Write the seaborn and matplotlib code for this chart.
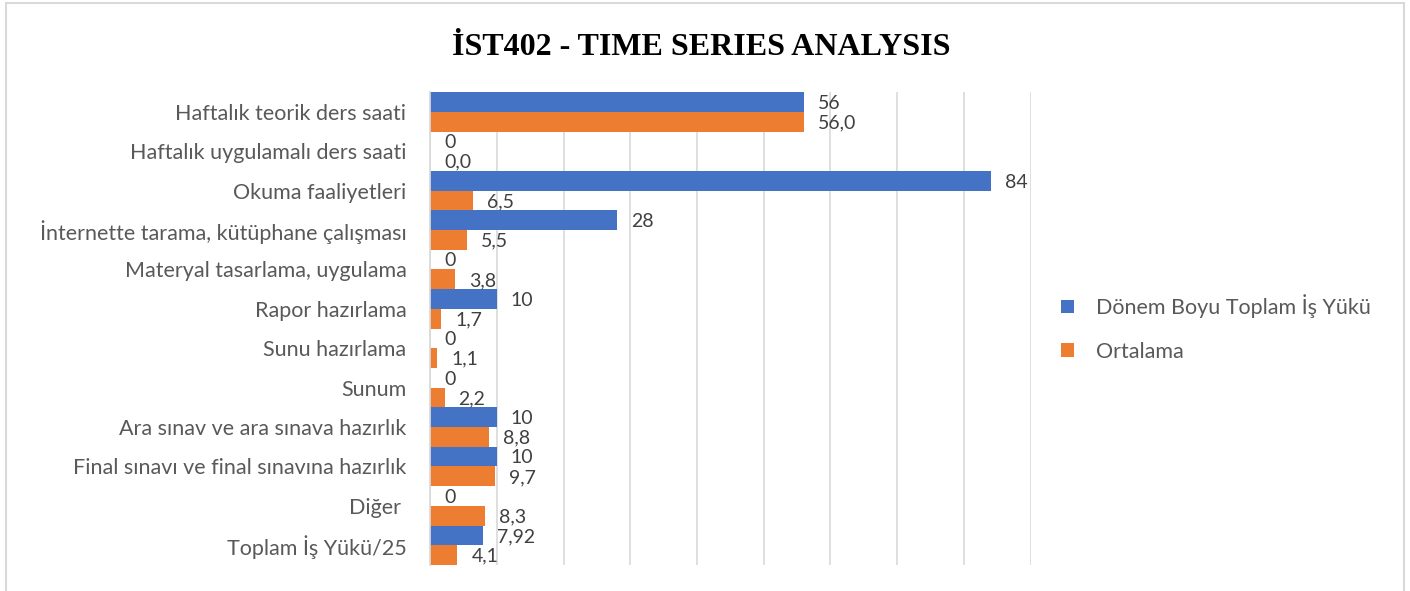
import matplotlib
matplotlib.use("Agg")
import matplotlib.pyplot as plt
import pandas as pd
import seaborn as sns
from matplotlib.patches import Rectangle, Patch

# Data
categories = [
    'Haftalık teorik ders saati',
    'Haftalık uygulamalı ders saati',
    'Okuma faaliyetleri',
    'İnternette tarama, kütüphane çalışması',
    'Materyal tasarlama, uygulama',
    'Rapor hazırlama',
    'Sunu hazırlama',
    'Sunum',
    'Ara sınav ve ara sınava hazırlık',
    'Final sınavı ve final sınavına hazırlık',
    'Diğer ',
    'Toplam İş Yükü/25',
]
total_load = [56, 0, 84, 28, 0, 10, 0, 0, 10, 10, 0, 7.92]
average = [56.0, 0.0, 6.5, 5.5, 3.8, 1.7, 1.1, 2.2, 8.8, 9.7, 8.3, 4.1]
series_names = ['Dönem Boyu Toplam İş Yükü', 'Ortalama']
colors = ['#4472C4', '#ED7D31']

df = pd.DataFrame({
    'category': categories * 2,
    'value': total_load + average,
    'series': [series_names[0]] * len(categories) + [series_names[1]] * len(categories),
})

sns.set_theme(style='white')
plt.rcParams['font.family'] = ['Lato', 'DejaVu Sans']

fig = plt.figure(figsize=(14.1, 5.91), dpi=100)
ax = fig.add_axes([0.305, 0.044, 0.426, 0.800])

sns.barplot(data=df, x='value', y='category', hue='series', orient='h',
            palette=colors, width=1.0, gap=0, ax=ax, legend=False,
            linewidth=0, saturation=1)

ax.set_xlim(0, 90)
ax.set_ylim(len(categories) - 0.5, -0.5)
ax.set_xticks(range(0, 91, 10))
ax.set_xticklabels([])
ax.tick_params(axis='both', length=0)
ax.grid(axis='x', color='#D9D9D9', linewidth=1.2)
ax.set_axisbelow(True)
for side in ['top', 'right', 'bottom']:
    ax.spines[side].set_visible(False)
ax.spines['left'].set_color('#D9D9D9')
ax.set_xlabel('')
ax.set_ylabel('')
ax.tick_params(axis='y', labelsize=15.5, labelcolor='#595959', pad=17)

# data labels
for i, v in enumerate(total_load):
    ax.annotate(f'{v:g}'.replace('.', ','), (v, i - 0.22), xytext=(10, 0),
                textcoords='offset points', va='center', ha='left',
                fontsize=14, color='#404040')
for i, v in enumerate(average):
    ax.annotate(f'{v:.1f}'.replace('.', ','), (v, i + 0.28), xytext=(10, 0),
                textcoords='offset points', va='center', ha='left',
                fontsize=14, color='#404040')

fig.suptitle('İST402 - TIME SERIES ANALYSIS', x=0.497, y=0.945,
             fontsize=23, fontweight='bold', family='Liberation Serif',
             color='black')

handles = [Patch(facecolor=c, edgecolor='none') for c in colors]
fig.legend(handles, series_names, loc='center left',
           bbox_to_anchor=(0.739, 0.445), frameon=False,
           fontsize=15.5, labelcolor='#595959', handlelength=0.6,
           handleheight=0.6, handletextpad=1.0, labelspacing=1.1)

fig.patches.append(Rectangle((0.004, -0.01), 0.992, 1.005, transform=fig.transFigure,
                             fill=False, edgecolor='#D9D9D9', linewidth=1.5))

fig.savefig('out.png', dpi=100, facecolor='white')
